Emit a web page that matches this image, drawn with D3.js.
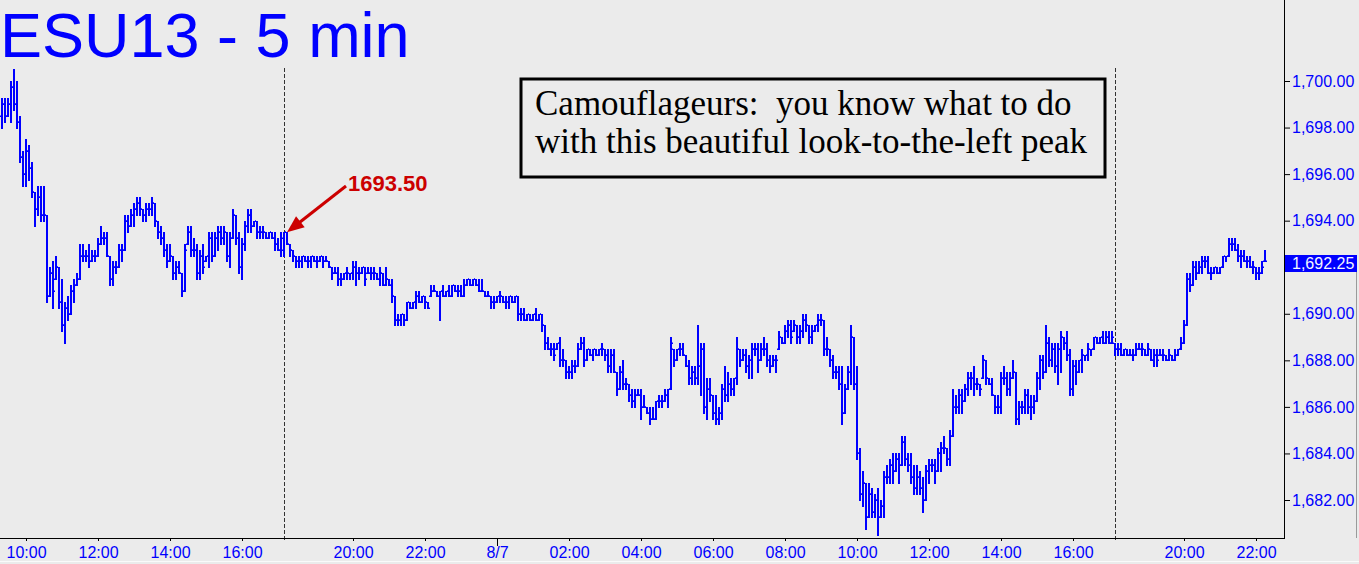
<!DOCTYPE html>
<html><head><meta charset="utf-8">
<script src="https://cdn.jsdelivr.net/npm/d3@7"></script>
<style>
html,body{margin:0;padding:0;background:#EBEBEB;overflow:hidden;}
svg{display:block;}
</style></head><body>
<svg id="chart" width="1359" height="564"></svg>
<script>
// ---- DATA (5-minute OHLC bars, ESU13) ----
const highs=[
1699.25,1699.25,1699.25,1700.0,1700.5,1700.0,1698.5,1697.0,1697.5,1697.25,
1696.5,1695.25,1695.5,1695.5,1695.5,1694.25,1692.0,1692.25,1692.5,1692.0,
1691.5,1690.5,1690.75,1691.25,1691.5,1691.75,1693.0,1693.0,1692.75,1693.0,
1692.75,1692.75,1693.25,1693.75,1693.5,1693.5,1692.5,1692.25,1692.25,1693.0,
1693.0,1694.25,1694.25,1694.5,1694.75,1695.0,1695.0,1694.5,1694.75,1694.75,
1695.0,1694.75,1694.0,1693.75,1693.5,1693.0,1693.0,1692.5,1692.25,1692.25,
1691.75,1693.0,1693.75,1693.75,1693.25,1693.0,1692.75,1693.0,1692.5,1693.5,
1693.5,1693.5,1693.75,1693.75,1693.75,1693.5,1693.5,1694.5,1694.25,1693.5,
1693.25,1694.0,1694.5,1694.5,1694.0,1694.0,1693.75,1693.75,1693.5,1693.5,
1693.5,1693.5,1693.25,1693.5,1693.5,1693.5,1693.0,1692.75,1692.5,1692.5,
1692.5,1692.5,1692.5,1692.5,1692.5,1692.5,1692.5,1692.5,1692.5,1692.25,
1692.0,1692.0,1692.0,1691.75,1691.75,1692.0,1691.75,1692.25,1692.25,1692.0,
1692.0,1692.0,1692.0,1692.0,1692.0,1691.75,1692.0,1691.75,1692.0,1691.5,
1691.5,1690.75,1690.0,1690.0,1690.0,1690.5,1690.5,1690.5,1691.0,1691.0,
1690.75,1690.75,1690.5,1691.25,1691.25,1691.0,1691.0,1691.25,1691.0,1691.25,
1691.25,1691.25,1691.25,1691.25,1691.5,1691.5,1691.5,1691.5,1691.5,1691.5,
1691.5,1691.0,1691.0,1690.75,1690.75,1690.75,1691.0,1690.75,1690.75,1690.75,
1690.75,1690.75,1690.75,1690.25,1690.25,1690.0,1690.0,1690.0,1690.25,1690.0,
1690.0,1689.5,1689.0,1688.75,1688.75,1688.75,1689.0,1688.5,1688.0,1687.75,
1688.0,1688.0,1688.75,1689.0,1689.0,1688.5,1688.5,1688.5,1688.5,1688.5,
1688.75,1688.5,1688.5,1688.5,1688.5,1687.5,1687.75,1688.0,1687.25,1687.0,
1686.75,1686.75,1686.75,1686.75,1686.5,1686.0,1686.0,1686.0,1686.25,1686.5,
1686.5,1686.75,1686.75,1689.0,1688.5,1688.5,1688.75,1688.75,1688.25,1688.0,
1687.75,1687.75,1689.5,1688.75,1688.75,1687.25,1687.25,1686.5,1686.5,1686.0,
1687.0,1687.75,1687.5,1687.25,1687.25,1689.0,1688.5,1688.5,1688.5,1688.25,
1688.75,1688.75,1688.75,1688.75,1689.0,1688.75,1688.25,1688.25,1688.25,1689.25,
1689.0,1689.5,1689.75,1689.75,1689.75,1689.5,1689.5,1690.0,1690.0,1689.5,
1689.5,1689.5,1690.0,1690.0,1689.75,1689.0,1688.5,1688.25,1687.75,1687.75,
1687.75,1687.0,1687.75,1689.5,1689.0,1687.75,1684.25,1683.25,1682.75,1682.75,
1682.5,1682.25,1682.5,1682.0,1683.25,1683.5,1683.75,1684.0,1684.0,1684.0,
1684.75,1684.75,1684.0,1684.0,1683.5,1683.5,1683.25,1683.0,1683.5,1683.75,
1683.75,1683.75,1684.25,1684.5,1684.75,1684.25,1685.0,1686.75,1686.5,1686.75,
1686.75,1687.0,1687.5,1687.5,1687.75,1687.25,1687.0,1688.25,1688.0,1687.25,
1687.25,1686.5,1686.5,1687.5,1687.75,1687.5,1687.5,1688.0,1687.5,1686.25,
1686.25,1686.75,1686.75,1686.5,1686.5,1687.5,1688.25,1688.25,1689.5,1689.0,
1688.75,1688.75,1688.75,1689.25,1689.0,1689.25,1688.5,1688.0,1688.0,1688.0,
1688.5,1688.25,1688.75,1688.5,1689.0,1689.0,1689.0,1689.25,1689.25,1689.25,
1689.25,1688.75,1688.75,1688.75,1688.5,1688.5,1688.5,1688.5,1688.75,1688.75,
1688.75,1688.5,1688.75,1688.5,1688.5,1688.5,1688.5,1688.5,1688.25,1688.5,
1688.25,1688.5,1688.5,1689.0,1689.75,1691.75,1691.75,1692.25,1692.25,1692.25,
1692.5,1692.5,1692.5,1692.0,1692.0,1692.0,1692.0,1692.5,1692.5,1693.25,
1693.25,1693.25,1693.0,1692.75,1692.75,1692.5,1692.5,1692.25,1692.0,1692.0,
1692.25,1692.75];
const lows=[
1698.0,1698.25,1698.5,1698.25,1698.75,1698.0,1696.5,1695.5,1695.5,1695.75,
1695.0,1693.75,1694.25,1694.0,1694.0,1690.5,1690.75,1690.25,1691.5,1690.25,
1689.25,1688.75,1689.75,1690.0,1690.5,1691.25,1691.5,1692.25,1692.25,1692.0,
1692.25,1692.25,1692.5,1693.0,1693.0,1692.5,1691.25,1691.25,1691.75,1692.0,
1692.25,1692.75,1693.5,1693.75,1693.75,1694.25,1694.25,1694.0,1694.0,1694.25,
1694.25,1693.75,1693.25,1693.0,1692.5,1692.0,1692.25,1691.5,1691.5,1691.75,
1690.75,1691.0,1693.0,1692.5,1692.5,1691.5,1691.5,1691.75,1692.25,1692.0,
1692.25,1692.5,1692.75,1693.0,1693.0,1692.25,1692.0,1693.25,1693.0,1691.75,
1691.5,1692.75,1693.5,1693.5,1693.75,1693.25,1693.25,1693.25,1693.25,1693.25,
1693.25,1692.75,1692.75,1692.5,1692.5,1693.0,1692.5,1692.25,1692.0,1692.0,
1692.0,1692.25,1692.0,1692.0,1692.25,1692.0,1692.25,1692.0,1692.25,1692.0,
1691.5,1691.75,1691.25,1691.25,1691.5,1691.5,1691.5,1691.5,1691.25,1691.5,
1691.75,1691.25,1691.75,1691.5,1691.5,1691.5,1691.25,1691.25,1691.25,1691.25,
1690.5,1689.5,1689.5,1689.5,1689.5,1689.75,1690.25,1690.25,1690.25,1690.5,
1690.5,1690.25,1690.25,1690.75,1691.0,1690.75,1689.75,1690.75,1690.75,1690.75,
1690.75,1691.0,1690.75,1690.75,1690.75,1691.25,1691.25,1691.25,1691.25,1691.0,
1691.0,1690.75,1690.75,1690.25,1690.25,1690.5,1690.5,1690.5,1690.25,1690.25,
1690.5,1690.5,1689.75,1689.75,1689.75,1689.75,1689.75,1689.75,1689.75,1689.75,
1689.25,1688.5,1688.5,1688.25,1688.0,1688.5,1687.75,1687.75,1687.25,1687.25,
1687.25,1687.5,1687.75,1688.5,1687.75,1688.0,1688.25,1688.0,1688.25,1688.25,
1688.25,1688.0,1687.5,1687.5,1687.5,1686.5,1686.75,1686.75,1686.75,1686.25,
1686.0,1686.0,1686.5,1685.5,1686.0,1685.75,1685.25,1685.5,1685.5,1686.0,
1686.0,1686.25,1686.0,1686.75,1687.75,1688.0,1688.25,1688.25,1687.75,1687.0,
1687.0,1687.0,1687.0,1686.5,1685.75,1685.5,1686.25,1685.5,1685.25,1685.25,
1685.5,1686.25,1686.25,1686.5,1686.5,1687.0,1687.75,1688.0,1687.5,1687.25,
1687.25,1688.25,1687.5,1688.0,1688.25,1687.75,1687.5,1687.75,1687.5,1688.5,
1688.75,1688.75,1689.0,1688.75,1689.25,1688.75,1688.75,1689.0,1689.25,1688.75,
1688.75,1689.25,1689.25,1689.5,1688.25,1688.25,1687.75,1687.25,1687.25,1686.75,
1685.25,1685.75,1686.75,1687.0,1686.75,1683.75,1682.0,1681.75,1680.75,1681.25,
1681.25,1681.25,1680.5,1681.25,1681.25,1682.75,1682.75,1682.75,1683.25,1682.75,
1683.5,1683.5,1683.25,1682.75,1682.25,1682.25,1682.25,1681.5,1682.0,1682.75,
1683.25,1682.75,1683.25,1683.25,1684.0,1683.5,1683.5,1684.75,1685.75,1685.75,
1685.75,1686.25,1686.5,1686.75,1686.5,1686.75,1686.5,1687.25,1687.0,1687.0,
1686.5,1685.75,1685.75,1685.75,1687.0,1686.5,1686.5,1687.25,1685.25,1685.25,
1685.75,1685.75,1685.75,1685.5,1685.75,1686.25,1686.75,1687.25,1687.5,1687.75,
1687.75,1687.5,1687.0,1687.5,1688.5,1688.0,1686.5,1686.5,1687.0,1687.5,
1687.5,1688.0,1688.0,1688.25,1688.5,1688.75,1688.75,1688.75,1688.75,1688.75,
1688.75,1688.25,1688.25,1688.25,1688.25,1688.25,1688.25,1688.0,1688.25,1688.5,
1688.25,1688.25,1688.25,1688.0,1687.75,1687.75,1688.25,1688.0,1688.0,1688.0,
1688.0,1688.0,1688.25,1688.5,1688.75,1689.5,1691.0,1691.25,1691.5,1691.75,
1691.75,1692.0,1691.75,1691.5,1691.75,1691.75,1691.75,1692.0,1692.25,1692.5,
1692.75,1692.75,1692.25,1692.0,1692.25,1692.0,1692.0,1691.75,1691.5,1691.5,
1691.75,1692.25];
const opens=[
1698.5,1699.0,1698.5,1699.0,1699.75,1699.0,1698.25,1696.75,1696.0,1697.0,
1696.25,1695.25,1694.5,1695.0,1694.25,1694.25,1690.75,1691.75,1691.5,1692.0,
1690.5,1689.5,1690.25,1690.0,1691.0,1691.25,1691.5,1692.5,1692.5,1692.5,
1692.25,1692.5,1692.5,1693.0,1693.25,1693.25,1692.5,1691.5,1692.0,1692.0,
1692.75,1692.75,1694.0,1693.75,1694.25,1694.5,1694.75,1694.5,1694.25,1694.5,
1694.5,1694.75,1694.0,1693.5,1693.25,1692.75,1692.25,1692.5,1691.75,1692.0,
1691.75,1691.0,1693.0,1693.5,1692.75,1692.75,1691.75,1692.5,1692.25,1692.5,
1693.25,1692.5,1693.25,1693.5,1693.25,1693.5,1692.5,1693.25,1694.25,1693.25,
1692.0,1693.0,1693.75,1694.25,1693.75,1694.0,1693.5,1693.5,1693.5,1693.25,
1693.5,1693.25,1693.0,1692.75,1692.75,1693.5,1693.0,1692.75,1692.5,1692.25,
1692.25,1692.5,1692.25,1692.25,1692.5,1692.25,1692.25,1692.5,1692.25,1692.25,
1692.0,1691.75,1691.75,1691.5,1691.5,1691.75,1691.75,1691.75,1692.0,1691.75,
1691.75,1692.0,1691.75,1691.75,1691.75,1691.75,1691.5,1691.75,1691.25,1691.5,
1691.25,1690.75,1689.75,1689.75,1690.0,1689.75,1690.5,1690.25,1690.5,1690.75,
1690.5,1690.75,1690.5,1690.75,1691.0,1691.0,1690.75,1691.0,1690.75,1691.0,
1690.75,1691.25,1691.0,1691.0,1690.75,1691.25,1691.5,1691.25,1691.5,1691.25,
1691.0,1691.0,1690.75,1690.75,1690.5,1690.5,1690.75,1690.75,1690.5,1690.5,
1690.75,1690.5,1690.75,1690.0,1690.0,1689.75,1690.0,1689.75,1690.0,1689.75,
1690.0,1689.5,1688.75,1688.5,1688.5,1688.5,1688.75,1688.0,1688.0,1687.5,
1687.5,1687.75,1687.75,1688.5,1688.75,1688.0,1688.5,1688.25,1688.5,1688.25,
1688.5,1688.5,1688.25,1687.75,1688.25,1687.5,1686.75,1687.5,1687.0,1687.0,
1686.5,1686.25,1686.5,1686.5,1686.0,1686.0,1685.75,1685.5,1685.5,1686.25,
1686.25,1686.25,1686.5,1686.75,1688.5,1688.0,1688.5,1688.5,1688.25,1687.75,
1687.25,1687.5,1687.25,1687.75,1688.5,1686.0,1686.75,1686.5,1685.75,1685.5,
1685.75,1686.75,1686.5,1687.0,1686.75,1687.25,1688.5,1688.0,1688.25,1687.75,
1688.0,1688.5,1688.5,1688.0,1688.5,1688.5,1688.0,1687.75,1688.0,1688.5,
1689.0,1688.75,1689.25,1689.5,1689.25,1689.5,1689.0,1689.25,1689.75,1689.5,
1689.0,1689.25,1689.5,1689.75,1689.75,1688.5,1688.5,1688.0,1687.5,1687.5,
1687.0,1685.75,1686.75,1687.5,1689.0,1687.0,1684.0,1682.25,1682.75,1681.25,
1682.25,1681.5,1682.0,1681.25,1681.75,1683.0,1683.0,1683.5,1683.25,1683.75,
1683.5,1684.5,1683.75,1683.5,1683.0,1682.5,1683.0,1682.5,1682.0,1683.25,
1683.5,1683.5,1683.25,1684.0,1684.25,1684.25,1683.75,1684.75,1686.0,1686.0,
1686.5,1686.25,1686.75,1687.25,1687.25,1687.0,1687.0,1687.25,1688.0,1687.25,
1687.0,1686.5,1686.0,1686.0,1687.25,1687.25,1686.75,1687.25,1687.5,1685.5,
1686.0,1686.0,1686.5,1686.0,1686.0,1686.25,1687.25,1688.0,1687.5,1688.75,
1688.0,1688.5,1687.75,1688.5,1689.0,1688.75,1688.25,1686.75,1687.75,1687.5,
1688.0,1688.25,1688.25,1688.5,1688.5,1689.0,1688.75,1689.0,1688.75,1689.0,
1688.75,1688.75,1688.5,1688.5,1688.25,1688.5,1688.25,1688.25,1688.25,1688.5,
1688.5,1688.5,1688.25,1688.5,1688.0,1688.25,1688.25,1688.25,1688.25,1688.0,
1688.25,1688.0,1688.25,1688.5,1688.75,1689.5,1691.5,1691.25,1692.0,1691.75,
1692.0,1692.25,1692.25,1691.75,1691.75,1692.0,1691.75,1692.0,1692.5,1692.5,
1693.0,1693.0,1692.75,1692.5,1692.5,1692.25,1692.25,1692.0,1692.0,1691.75,
1691.75,1692.25];
const closes=[
1699.0,1698.5,1699.0,1699.75,1699.0,1698.25,1696.75,1696.0,1697.0,1696.25,
1695.25,1694.5,1695.0,1694.25,1694.25,1690.75,1691.75,1691.0,1692.0,1690.5,
1689.5,1690.25,1690.0,1691.0,1691.25,1691.5,1692.5,1692.5,1692.5,1692.25,
1692.5,1692.5,1693.0,1693.25,1693.25,1692.5,1691.5,1692.0,1692.0,1692.75,
1692.75,1694.0,1693.75,1694.25,1694.5,1694.75,1694.5,1694.25,1694.5,1694.5,
1694.75,1694.0,1693.5,1693.25,1692.75,1692.25,1692.5,1691.75,1692.0,1691.75,
1691.0,1692.75,1693.5,1692.75,1692.75,1691.75,1692.5,1692.0,1692.5,1693.25,
1692.5,1693.25,1693.5,1693.25,1693.5,1692.5,1693.25,1694.25,1693.25,1692.0,
1693.0,1693.75,1694.25,1693.75,1694.0,1693.5,1693.5,1693.5,1693.25,1693.5,
1693.25,1693.0,1692.75,1693.25,1693.5,1693.0,1692.75,1692.5,1692.25,1692.25,
1692.5,1692.25,1692.25,1692.5,1692.25,1692.25,1692.5,1692.25,1692.25,1692.0,
1691.75,1691.75,1691.5,1691.5,1691.75,1691.75,1691.75,1692.0,1691.75,1691.75,
1692.0,1691.5,1691.75,1691.75,1691.75,1691.5,1691.75,1691.25,1691.5,1691.25,
1690.75,1689.75,1689.75,1690.0,1689.75,1690.5,1690.25,1690.5,1690.75,1690.5,
1690.75,1690.5,1690.25,1691.0,1691.0,1690.75,1691.0,1690.75,1691.0,1690.75,
1691.25,1691.0,1691.0,1690.75,1691.25,1691.5,1691.25,1691.5,1691.25,1691.0,
1691.0,1690.75,1690.75,1690.5,1690.5,1690.75,1690.75,1690.5,1690.5,1690.75,
1690.5,1690.75,1690.0,1690.0,1689.75,1690.0,1689.75,1690.0,1689.75,1690.0,
1689.5,1688.75,1688.5,1688.5,1688.25,1688.75,1688.0,1688.0,1687.5,1687.5,
1687.75,1687.75,1688.5,1688.75,1688.0,1688.5,1688.25,1688.5,1688.25,1688.5,
1688.5,1688.25,1687.75,1688.25,1687.5,1686.75,1687.5,1687.0,1687.0,1686.5,
1686.25,1686.5,1686.5,1686.0,1686.0,1685.75,1685.5,1685.5,1686.25,1686.25,
1686.25,1686.5,1686.75,1688.75,1688.0,1688.5,1688.5,1688.25,1687.75,1687.25,
1687.5,1687.25,1687.75,1688.5,1686.0,1686.75,1686.5,1685.75,1685.5,1685.75,
1686.75,1686.5,1687.0,1686.75,1687.25,1688.5,1688.0,1688.25,1687.75,1688.0,
1688.5,1688.5,1688.0,1688.5,1688.5,1688.0,1687.75,1688.0,1688.0,1689.0,
1688.75,1689.25,1689.5,1689.0,1689.5,1689.0,1689.25,1689.75,1689.5,1689.0,
1689.25,1689.5,1689.75,1689.75,1688.5,1688.5,1688.0,1687.5,1687.5,1687.0,
1685.75,1686.75,1687.5,1689.0,1687.0,1684.0,1682.25,1682.75,1681.25,1682.25,
1681.5,1682.0,1681.25,1681.75,1683.0,1683.0,1683.5,1683.25,1683.75,1683.5,
1684.5,1683.75,1683.5,1683.0,1682.5,1683.0,1682.5,1682.0,1683.25,1683.5,
1683.5,1683.25,1684.0,1684.25,1684.25,1683.75,1684.75,1686.0,1686.0,1686.5,
1686.25,1686.75,1687.25,1687.25,1687.0,1687.0,1686.75,1688.0,1687.25,1687.0,
1686.5,1686.0,1686.0,1687.25,1687.25,1686.75,1687.25,1687.5,1685.5,1686.0,
1686.0,1686.5,1686.0,1686.0,1686.25,1687.25,1688.0,1687.5,1688.75,1688.0,
1688.5,1687.75,1688.5,1689.0,1688.75,1688.25,1686.75,1687.75,1687.5,1688.0,
1688.25,1688.25,1688.5,1688.5,1689.0,1688.75,1689.0,1688.75,1689.0,1688.75,
1689.0,1688.5,1688.5,1688.25,1688.5,1688.25,1688.25,1688.25,1688.5,1688.5,
1688.5,1688.25,1688.5,1688.0,1688.25,1688.0,1688.25,1688.25,1688.0,1688.25,
1688.0,1688.25,1688.5,1688.75,1689.5,1691.5,1691.25,1692.0,1691.75,1692.0,
1692.25,1692.25,1691.75,1691.75,1692.0,1691.75,1692.0,1692.5,1692.5,1693.0,
1693.0,1692.75,1692.5,1692.5,1692.25,1692.25,1692.0,1692.0,1691.75,1691.75,
1692.0,1692.25];

// time-axis ticks (bar index -> label)
const tickIdx=[8,32,56,80,117,141,165,189,213,237,261,285,309,333,357,394,418];
const tickLabels=["10:00","12:00","14:00","16:00","20:00","22:00","8/7","02:00","04:00","06:00","08:00","10:00","12:00","14:00","16:00","20:00","22:00"];
const dayTick="8/7";
const sessionIdx=[94,371];          // session-start dashed lines
const priceTicks=[1682,1684,1686,1688,1690,1694,1696,1698,1700]; // 1,692.00 is hidden under the last-price tag
const lastPrice=1692.25;
const titleText="ESU13 - 5 min";
const noteLines=["Camouflageurs:  you know what to do","with this beautiful look-to-the-left peak"];
const calloutIdx=94, calloutPrice=1693.50, calloutText="1693.50";

// ---- DRAWING ----
const W=1359,H=564;
const BG="#EBEBEB", BLUE="#0000FF", RED="#CC0000";
const SANS="'Liberation Sans', Arial, sans-serif";
const SERIF="'Liberation Serif', 'Times New Roman', serif";
const svg=d3.select("#chart");
svg.append("rect").attr("width",W).attr("height",H).attr("fill",BG);

const plotR=1284, plotB=538;
const x=d3.scaleLinear().domain([0,highs.length-1]).range([2,2+3*(highs.length-1)]);
const y=d3.scaleLinear().domain([1682,1700]).range([500,81]);

// session dashed lines
svg.append("g").selectAll("line").data(sessionIdx).join("line")
  .attr("x1",d=>Math.round(x(d))+0.5).attr("x2",d=>Math.round(x(d))+0.5)
  .attr("y1",68).attr("y2",plotB+3)
  .attr("stroke","#333").attr("stroke-width",1).attr("stroke-dasharray","4,2");

// OHLC bars
const idx=d3.range(highs.length);
const gb=svg.append("g").attr("fill",BLUE);
gb.selectAll("rect.hl").data(idx).join("rect").attr("class","hl")
  .attr("x",i=>Math.round(x(i))-1).attr("width",2)
  .attr("y",i=>Math.round(y(highs[i])))
  .attr("height",i=>Math.max(1,Math.round(y(lows[i]))-Math.round(y(highs[i]))+1));
gb.selectAll("rect.op").data(idx).join("rect").attr("class","op")
  .attr("x",i=>Math.round(x(i))-2).attr("width",1)
  .attr("y",i=>Math.round(y(opens[i]))-0.5).attr("height",1.5);
gb.selectAll("rect.cl").data(idx).join("rect").attr("class","cl")
  .attr("x",i=>Math.round(x(i))+1).attr("width",1)
  .attr("y",i=>Math.round(y(closes[i]))-0.5).attr("height",1.5);

// axes lines
svg.append("line").attr("x1",0).attr("x2",plotR).attr("y1",plotB+0.5).attr("y2",plotB+0.5).attr("stroke","#000");
svg.append("line").attr("x1",plotR+0.5).attr("x2",plotR+0.5).attr("y1",0).attr("y2",plotB+1).attr("stroke","#000");

// bottom time axis
const xAxis=d3.axisBottom(x).tickValues(tickIdx).tickFormat((d,k)=>tickLabels[k]).tickSize(3).tickSizeOuter(0).tickPadding(6);
const gx=svg.append("g").attr("transform",`translate(0,${plotB})`).call(xAxis);
gx.select(".domain").remove();
gx.selectAll(".tick line").attr("stroke","#000");
gx.selectAll(".tick text").attr("fill",BLUE).style("font-family",SANS).style("font-size","16px");
gx.selectAll(".tick").filter((d,k)=>tickLabels[k]===dayTick).select("line").attr("y2",8);

// right price axis
const yAxis=d3.axisRight(y).tickValues(priceTicks).tickFormat(d3.format(",.2f")).tickSize(6).tickSizeOuter(0).tickPadding(2);
const gy=svg.append("g").attr("transform",`translate(${plotR},0)`).call(yAxis);
gy.select(".domain").remove();
gy.selectAll(".tick line").attr("stroke","#000");
gy.selectAll(".tick text").attr("fill",BLUE).style("font-family",SANS).style("font-size","16px");

// last price tag
const ly=Math.round(y(lastPrice));
svg.append("rect").attr("x",plotR+1).attr("y",ly-6).attr("width",72).attr("height",17).attr("fill",BLUE);
svg.append("text").attr("x",plotR+8).attr("y",ly+2.5).attr("dy","0.32em").attr("fill","#F4F4FF")
  .style("font-family",SANS).style("font-size","16px").text(d3.format(",.2f")(lastPrice));

// window edges
svg.append("line").attr("x1",0).attr("x2",W).attr("y1",561.5).attr("y2",561.5).attr("stroke","#FAFAFA");
svg.append("line").attr("x1",1356.5).attr("x2",1356.5).attr("y1",ly+11).attr("y2",plotB).attr("stroke","#9A9A9A");

// title
svg.append("text").attr("x",0).attr("y",57).attr("fill",BLUE)
  .style("font-family",SANS).style("font-size","63px").text(titleText);

// annotation box
svg.append("rect").attr("x",521).attr("y",79).attr("width",584).attr("height",98)
  .attr("fill",BG).attr("stroke","#000").attr("stroke-width",3);
svg.append("g").selectAll("text").data(noteLines).join("text")
  .attr("x",535).attr("y",(d,k)=>115+k*38).attr("fill","#000")
  .style("font-family",SERIF).style("font-size","35px").style("white-space","pre").text(d=>d);

// callout arrow
const tip=[Math.round(x(calloutIdx))+3, y(calloutPrice)];
const start=[346,186];
const dx=tip[0]-start[0], dy=tip[1]-start[1], len=Math.hypot(dx,dy);
const ux=dx/len, uy=dy/len, nx=-uy, ny=ux;
const HL=17, HW=14;
const base=[tip[0]-ux*HL, tip[1]-uy*HL];
svg.append("line").attr("x1",start[0]).attr("y1",start[1]).attr("x2",base[0]+ux*2).attr("y2",base[1]+uy*2)
  .attr("stroke",RED).attr("stroke-width",3);
svg.append("polygon").attr("fill",RED)
  .attr("points",[tip,[base[0]+nx*HW/2,base[1]+ny*HW/2],[base[0]-nx*HW/2,base[1]-ny*HW/2]].map(p=>p.join(",")).join(" "));
svg.append("text").attr("x",348).attr("y",191).attr("fill",RED)
  .style("font-family",SANS).style("font-size","22px").style("font-weight","bold").text(calloutText);
</script>
</body></html>
